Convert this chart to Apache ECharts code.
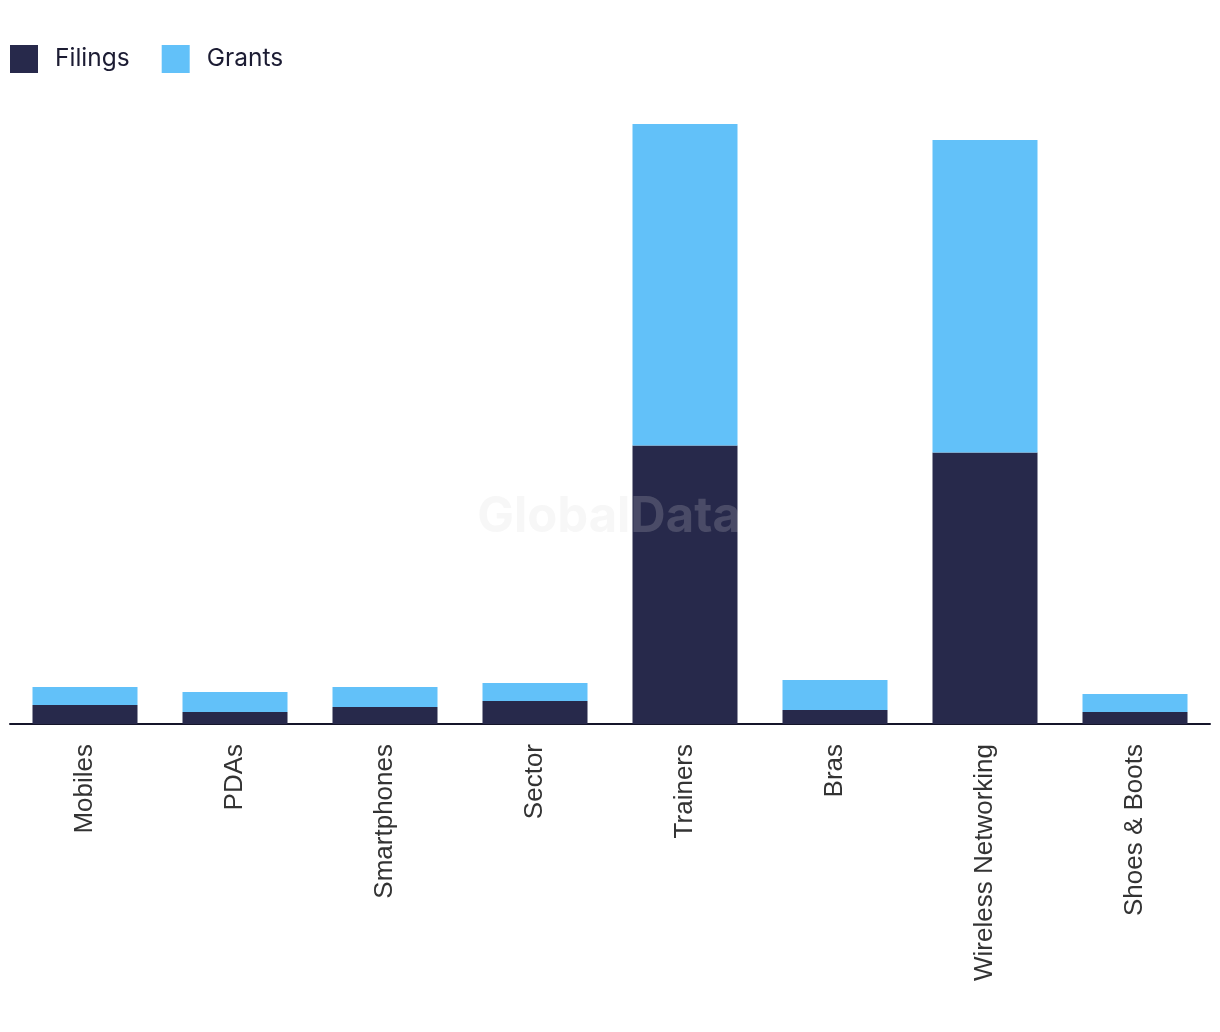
<!DOCTYPE html>
<html>
<head>
<meta charset="utf-8">
<script src="https://cdn.jsdelivr.net/npm/echarts@6/dist/echarts.min.js"></script>
<style>html,body{margin:0;padding:0;background:#fff;}#c{width:1220px;height:1032px;}</style>
</head>
<body>
<div id="c"></div>
<script>
const categories = ['Mobiles', 'PDAs', 'Smartphones', 'Sector', 'Trainers', 'Bras', 'Wireless Networking', 'Shoes & Boots'];
const filings = [19, 12, 17, 23, 278, 14, 271, 12];
const grants = [18, 20, 20, 18, 321, 30, 312, 18];

const chart = echarts.init(document.getElementById('c'), null, {renderer: 'canvas'});
chart.setOption({
  animation: false,
  backgroundColor: '#ffffff',
  legend: {
    left: 10, top: 45, padding: 0,
    itemWidth: 28, itemHeight: 28, itemGap: 32,
    icon: 'rect',
    textStyle: {fontFamily: 'Inter', fontSize: 24.5, color: '#1c1c33', padding: [0, 0, 0, 12]},
    data: ['Filings', 'Grants']
  },
  grid: {left: 10, right: 10, top: 123, bottom: 308, containLabel: false},
  xAxis: {
    type: 'category',
    data: categories,
    axisLine: {lineStyle: {color: '#15152a', width: 2}},
    axisTick: {show: false},
    axisLabel: {rotate: 90, margin: 20, fontFamily: 'Liberation Sans', fontSize: 26, color: '#333333', interval: 0}
  },
  yAxis: {
    type: 'value', min: 0, max: 600,
    show: false, splitLine: {show: false}
  },
  series: [
    {name: 'Filings', type: 'bar', stack: 'a', data: filings, barWidth: '70%', itemStyle: {color: '#27294b'}},
    {name: 'Grants', type: 'bar', stack: 'a', data: grants, barWidth: '70%', itemStyle: {color: '#62c1f9'}}
  ],
  graphic: [{
    type: 'text', z: 100, silent: true,
    style: {x: 609, y: 517, align: 'center', verticalAlign: 'middle', text: 'GlobalData', fontFamily: 'Inter', fontWeight: 'bold', fontSize: 49, fill: 'rgba(214,214,214,0.2)'}
  }]
});
</script>
</body>
</html>
